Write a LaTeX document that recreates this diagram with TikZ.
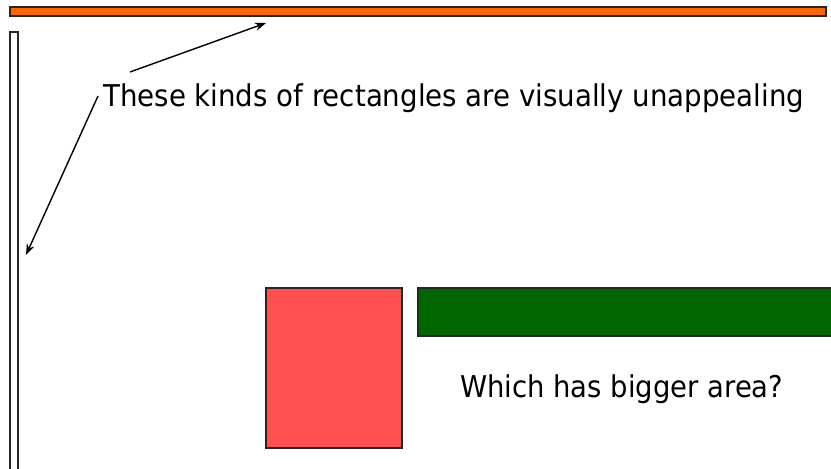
\documentclass[tikz,border=0pt]{standalone}
\usepackage{fontspec}
\setmainfont{DejaVu Sans}
\usetikzlibrary{arrows.meta}
\definecolor{barorange}{RGB}{255,102,0}
\definecolor{boxred}{RGB}{255,80,80}
\definecolor{boxgreen}{RGB}{0,102,0}
\tikzset{
  shape box/.style={draw=black!85, line width=1.3pt},
  label text/.style={inner sep=0pt, font=\fontsize{30}{36}\selectfont},
  pointer/.style={draw=black, line width=1.4pt, -{Stealth[length=11pt,width=8pt]}}
}
\begin{document}
\begin{tikzpicture}[x=1pt,y=-1pt]
\useasboundingbox (0,0) rectangle (831,469);
\fill[white] (0,0) rectangle (831,469);
% shapes
\draw[shape box, fill=barorange] (10,7) rectangle (826,16);
\draw[shape box, fill=white] (10,32) rectangle (18,490);
\draw[shape box, fill=boxred] (266,288) rectangle (402,448);
\draw[shape box, fill=boxgreen] (418,288) rectangle (845,336);
% texts
\node[label text, anchor=base west] (t1) at (103,106.7) {\resizebox{701pt}{\height}{These kinds of rectangles are visually unappealing}};
\node[label text, anchor=base west] (t2) at (460,397) {\resizebox{323pt}{\height}{Which has bigger area?}};
% arrow endpoints
\coordinate (s1) at (130,72);
\coordinate (e1) at (266,23);
\coordinate (s2) at (98,96);
\coordinate (e2) at (26,255);
\draw[pointer] (s1) -- (e1);
\draw[pointer] (s2) -- (e2);
\end{tikzpicture}
\end{document}
